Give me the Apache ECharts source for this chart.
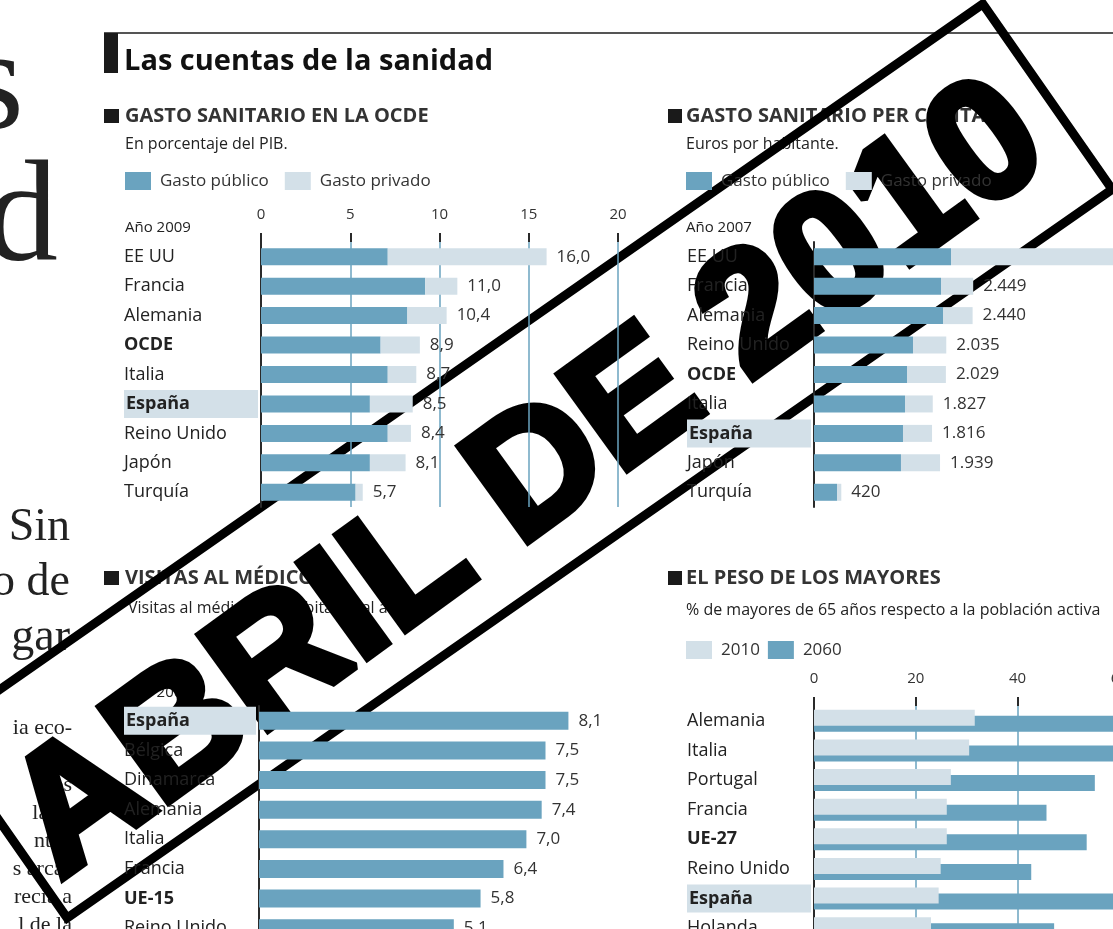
<!DOCTYPE html>
<html>
<head>
<meta charset="utf-8">
<script src="https://cdn.jsdelivr.net/npm/echarts/dist/echarts.min.js"></script>
<style>
  html, body { margin: 0; padding: 0; background: #fff; }
  #main { width: 1113px; height: 929px; }
</style>
</head>
<body>
<div id="main"></div>
<script>
    // gasto sanitario en la OCDE (% del PIB, año 2009)
    var paisesPib = ['EE UU', 'Francia', 'Alemania', 'OCDE', 'Italia', 'España', 'Reino Unido', 'Japón', 'Turquía'];
    var publicoPib = [7.1, 9.2, 8.2, 6.7, 7.1, 6.1, 7.1, 6.1, 5.3];
    var totalPib = [16.0, 11.0, 10.4, 8.9, 8.7, 8.5, 8.4, 8.1, 5.7];

    // gasto sanitario per cápita (euros, año 2007)
    var paisesEur = ['EE UU', 'Francia', 'Alemania', 'Reino Unido', 'OCDE', 'Italia', 'España', 'Japón', 'Turquía'];
    var publicoEur = [2108, 1954, 1985, 1523, 1431, 1400, 1369, 1338, 354];
    var totalEur = [5320, 2449, 2440, 2035, 2029, 1827, 1816, 1939, 420];

    // visitas al médico (año 2006)
    var paisesVisitas = ['España', 'Bélgica', 'Dinamarca', 'Alemania', 'Italia', 'Francia', 'UE-15', 'Reino Unido'];
    var visitas = [8.1, 7.5, 7.5, 7.4, 7.0, 6.4, 5.8, 5.1];

    // el peso de los mayores
    var paisesMayores = ['Alemania', 'Italia', 'Portugal', 'Francia', 'UE-27', 'Reino Unido', 'España', 'Holanda'];
    var mayores2010 = [31.6, 30.5, 26.9, 26.1, 26.1, 24.9, 24.5, 23.0];
    var mayores2060 = [59.5, 59.3, 55.2, 45.7, 53.6, 42.7, 59.1, 47.2];

    var AZUL = '#6aa3bf', CLARO = '#d3e0e8', TINTA = '#2a2a2a';
    var FONT = 'Open Sans', SERIF = 'Liberation Serif';

    function restar(a, b) {
        return a.map(function (v, i) { return +(v - b[i]).toFixed(2); });
    }
    function coma(v) { return v.toFixed(1).replace('.', ','); }
    function miles(v) { return String(v).replace(/\B(?=(\d{3})+(?!\d))/g, '.'); }

    function ejeCategorias(idx, data, ancho) {
        return {
            type: 'category', gridIndex: idx, data: data, inverse: true,
            axisLine: { lineStyle: { color: TINTA, width: 2 } },
            axisTick: { length: ancho, lineStyle: { color: TINTA, width: 2 } },
            axisLabel: {
                align: 'left', margin: ancho - 1, color: '#222', fontFamily: FONT, fontSize: 18,
                formatter: function (v) {
                    if (v === 'España') return '{hl|' + v + '}';
                    if (v === 'OCDE' || v.indexOf('UE-') === 0) return '{b|' + v + '}';
                    return v;
                },
                rich: {
                    hl: { backgroundColor: CLARO, width: ancho - 6, height: 28, padding: [0, 0, 0, 2],
                          fontWeight: 'bold', fontSize: 18, fontFamily: FONT, color: '#222' },
                    b: { fontWeight: 'bold', fontSize: 18, fontFamily: FONT, color: '#222' }
                }
            }
        };
    }

    function ejeValores(idx, max, interval, visible) {
        return {
            type: 'value', gridIndex: idx, position: 'top', min: 0, max: max, interval: interval,
            axisLine: { show: false },
            axisTick: { show: visible, length: 9, lineStyle: { color: TINTA, width: 2 } },
            axisLabel: { show: visible, margin: 20, color: '#333', fontFamily: FONT, fontSize: 15 },
            splitLine: { show: visible, lineStyle: { color: AZUL, width: 1.5 } }
        };
    }

    function etiqueta(fmt) {
        return { show: true, position: 'right', distance: 10, color: '#333', fontFamily: FONT, fontSize: 17, formatter: fmt };
    }

    function texto(x, y, t, size, weight, extra) {
        var st = { text: t, fontSize: size, fontWeight: weight || 'normal', fontFamily: FONT, fill: '#222', textVerticalAlign: 'middle' };
        for (var k in extra) st[k] = extra[k];
        return { type: 'text', x: x, y: y, style: st };
    }
    function cuadro(x, y, w, h) {
        return { type: 'rect', shape: { x: x, y: y, width: w, height: h }, style: { fill: '#1a1a1a' } };
    }
    function serif(x, y, t, size) {
        return texto(x, y, t, size, 'normal', { fontFamily: SERIF, textAlign: 'right', textVerticalAlign: 'bottom', fill: '#222' });
    }
    function leyenda(left, top, nombres, gap) {
        return { left: left, top: top, padding: 0, icon: 'rect', itemWidth: 26, itemHeight: 18, itemGap: gap,
                 data: nombres, textStyle: { fontFamily: FONT, fontSize: 17, color: '#333', padding: [0, 0, 0, 4] } };
    }

    var myChart = echarts.init(document.getElementById('main'));

    var option = {
        backgroundColor: '#fff',
        animation: false,
        grid: [
            { left: 261, top: 242, width: 357, height: 265, outerBoundsMode: 'none' },
            { left: 814, top: 242, width: 390, height: 265, outerBoundsMode: 'none' },
            { left: 259, top: 706, width: 382, height: 237, outerBoundsMode: 'none' },
            { left: 814, top: 706, width: 407, height: 237, outerBoundsMode: 'none' }
        ],
        xAxis: [
            ejeValores(0, 20, 5, true),
            ejeValores(1, 6000, 1000, false),
            ejeValores(2, 10, 2, false),
            ejeValores(3, 80, 20, true)
        ],
        yAxis: [
            ejeCategorias(0, paisesPib, 138),
            ejeCategorias(1, paisesEur, 128),
            ejeCategorias(2, paisesVisitas, 136),
            ejeCategorias(3, paisesMayores, 128)
        ],
        legend: [
            leyenda(125, 172, ['Gasto público', 'Gasto privado'], 16),
            leyenda(686, 172, ['Gasto público', 'Gasto privado'], 16),
            leyenda(686, 641, ['2010', '2060'], 8)
        ],
        series: [
            { name: 'Gasto público', type: 'bar', stack: 'pib', xAxisIndex: 0, yAxisIndex: 0, barWidth: 17,
              data: publicoPib, itemStyle: { color: AZUL } },
            { name: 'Gasto privado', type: 'bar', stack: 'pib', xAxisIndex: 0, yAxisIndex: 0, barWidth: 17,
              data: restar(totalPib, publicoPib), itemStyle: { color: CLARO },
              label: etiqueta(function (p) { return coma(totalPib[p.dataIndex]); }) },
            { name: 'Gasto público', type: 'bar', stack: 'eur', xAxisIndex: 1, yAxisIndex: 1, barWidth: 17,
              data: publicoEur, itemStyle: { color: AZUL } },
            { name: 'Gasto privado', type: 'bar', stack: 'eur', xAxisIndex: 1, yAxisIndex: 1, barWidth: 17,
              data: restar(totalEur, publicoEur), itemStyle: { color: CLARO },
              label: etiqueta(function (p) { return miles(totalEur[p.dataIndex]); }) },
            { name: 'Visitas', type: 'bar', xAxisIndex: 2, yAxisIndex: 2, barWidth: 18,
              data: visitas, itemStyle: { color: AZUL },
              label: etiqueta(function (p) { return coma(p.value); }) },
            { name: '2010', type: 'bar', xAxisIndex: 3, yAxisIndex: 3, barWidth: 16, barGap: '-62%', z: 3,
              data: mayores2010, itemStyle: { color: CLARO } },
            { name: '2060', type: 'bar', xAxisIndex: 3, yAxisIndex: 3, barWidth: 16, barGap: '-62%', z: 2,
              data: mayores2060, itemStyle: { color: AZUL } }
        ],
        graphic: [
            // cabecera
            { type: 'line', shape: { x1: 104, y1: 33, x2: 1113, y2: 33 }, style: { stroke: '#555', lineWidth: 2 } },
            cuadro(104, 33, 14, 40),
            texto(124, 62, 'Las cuentas de la sanidad', 29, 'bold', { fill: '#111' }),

            cuadro(104, 109, 15, 14),
            texto(125, 116, 'GASTO SANITARIO EN LA OCDE', 20, 'bold', { fill: '#333' }),
            texto(125, 144, 'En porcentaje del PIB.', 16),
            texto(125, 228, 'Año 2009', 15),

            cuadro(668, 109, 14, 14),
            texto(686, 116, 'GASTO SANITARIO PER CÁPITA', 20, 'bold', { fill: '#333' }),
            texto(686, 144, 'Euros por habitante.', 16),
            texto(686, 228, 'Año 2007', 15),

            cuadro(104, 571, 15, 14),
            texto(125, 578, 'VISITAS AL MÉDICO', 20, 'bold', { fill: '#333' }),
            texto(128, 608, 'Visitas al médico por habitante al año', 16),
            texto(125, 693, 'Año 2006', 15),
            { type: 'line', shape: { x1: 259, y1: 694, x2: 259, y2: 706 }, style: { stroke: TINTA, lineWidth: 2 } },

            cuadro(668, 571, 14, 14),
            texto(686, 578, 'EL PESO DE LOS MAYORES', 20, 'bold', { fill: '#333' }),
            texto(686, 610, '% de mayores de 65 años respecto a la población activa', 16),

            // restos de la columna vecina
            serif(24, 162, 's', 145),
            serif(58, 294, 'd', 145),
            serif(70, 551, 'Sin', 46),
            serif(70, 606, 'o de', 46),
            serif(70, 661, 'gar', 46),
            serif(72, 739, 'ia eco-', 22),
            serif(72, 767, 'del', 22),
            serif(72, 796, 'los', 22),
            serif(72, 824, 'la sa', 22),
            serif(72, 852, 'ntab', 22),
            serif(72, 880, 's arcas', 22),
            serif(72, 908, 'recia a', 22),
            serif(72, 936, 'l de la', 22),

            // sello
            { type: 'group', x: 525, y: 461, rotation: 0.609, z: 100, children: [
                { type: 'rect', shape: { x: -637, y: -113, width: 1274, height: 226 },
                  style: { fill: 'none', stroke: '#000', lineWidth: 9 } },
                { type: 'text', x: -8, y: 20, rotation: 0.018, style: { text: 'ABRIL DE 2010', fontSize: 170, fontWeight: 'bold',
                  fontFamily: 'Liberation Sans', fill: '#000', stroke: '#000', lineWidth: 8,
                  textAlign: 'center', textVerticalAlign: 'middle' } }
            ] }
        ]
    };

    myChart.setOption(option);
</script>
</body>
</html>
